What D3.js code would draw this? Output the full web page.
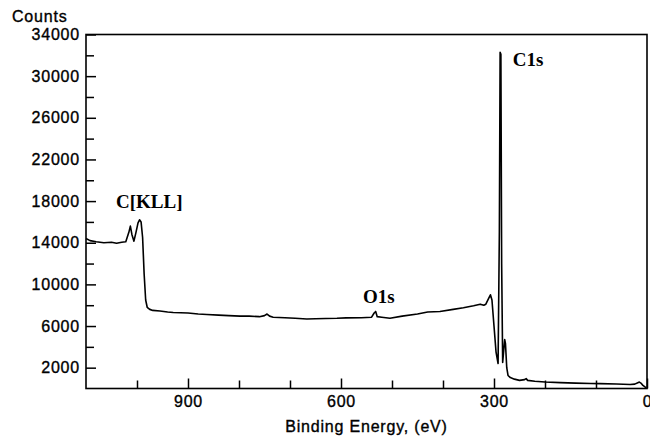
<!DOCTYPE html>
<html>
<head>
<meta charset="utf-8">
<script src="https://cdn.jsdelivr.net/npm/d3@7"></script>
<style>
  html, body { margin: 0; padding: 0; background: #fff; }
  svg { display: block; }
  .sans { font-family: "Liberation Sans", Arial, Helvetica, sans-serif; }
</style>
</head>
<body>
<svg id="chart" width="650" height="436"></svg>
<script>
// Binding energy (eV) and intensity (counts)
const energy = [1100,1092,1080,1065,1050,1040,1030,1022,1016,1013,1010,1006,1002,998,995,992,989,986,983,980,975,969,955,940,929,900,880,863,840,820,798,780,760,750,745,740,733,710,690,667,650,630,608,590,560,540,535,532,529,520,504,480,450,430,406,380,360,340,327,320,316,310,307,304,300,296,292,289.5,288,286.5,285,283,281,279,277.5,275,272.5,268,260,250,240,237,234,220,200,170,140,110,92,60,33,24,18,15,12,8,4,1];
const counts = [14400,14200,14100,14000,14050,13950,14050,14100,15000,15600,14800,14150,15000,15900,16200,16000,14500,11000,8500,7800,7600,7500,7450,7350,7300,7250,7150,7100,7050,7000,6950,6950,6900,7000,7150,6950,6850,6800,6750,6680,6700,6720,6740,6780,6800,6850,7250,7400,6900,6850,6750,6950,7150,7350,7400,7600,7750,7950,8100,8000,8100,8700,9000,8500,6000,3500,2400,15000,32300,32100,12000,2500,3600,4700,4300,2000,1250,1050,900,780,850,950,780,700,620,560,520,480,470,430,390,420,560,620,520,300,150,100];

const yMajorTicks = [2000, 6000, 10000, 14000, 18000, 22000, 26000, 30000, 34000];
const yMinorTicks = [4000, 8000, 12000, 16000, 20000, 24000, 28000, 32000];
const xMajorTicks = [900, 600, 300, 0];
const xMinorTicks = [1000, 800, 700, 500, 400, 200, 100];

const peakNames = ["C[KLL]", "O1s", "C1s"];
const peakLabelEnergy = [976, 526, 263];
const peakLabelCounts = [17300, 8200, 31000];
const peakAnchor = ["middle", "middle", "start"];

const xTitle = "Binding Energy, (eV)";
const yTitle = "Counts";

const svg = d3.select("#chart");
const x = d3.scaleLinear().domain([1100, 0]).range([86, 647]);
const y = d3.scaleLinear().domain([0, 34000]).range([388.5, 34.5]);

// curve
const line = d3.line().x((d, i) => x(energy[i])).y(d => y(d));
svg.append("path")
  .datum(counts)
  .attr("d", line)
  .attr("fill", "none")
  .attr("stroke", "#000")
  .attr("stroke-width", 1.6)
  .attr("stroke-linejoin", "round");

function styleAxis(g) {
  g.select(".domain").remove();
  g.selectAll("line").attr("stroke", "#000").attr("stroke-width", 1.5);
  g.selectAll("text")
    .attr("class", "sans")
    .attr("fill", "#000")
    .style("font-size", "16px")
    .style("letter-spacing", "0.8px")
    .attr("stroke", "#000")
    .attr("stroke-width", 0.35);
}

// y axis
svg.append("g").attr("transform", `translate(${x(1100)},0)`)
  .call(d3.axisLeft(y).tickValues(yMajorTicks).tickSize(-10).tickPadding(6).tickFormat(d3.format("d")))
  .call(styleAxis)
  .attr("font-family", null);
svg.append("g").attr("transform", `translate(${x(1100)},0)`)
  .call(d3.axisLeft(y).tickValues(yMinorTicks).tickSize(-8).tickFormat(""))
  .call(styleAxis);

// x axis
svg.append("g").attr("transform", `translate(0,${y(0)})`)
  .call(d3.axisBottom(x).tickValues(xMajorTicks).tickSize(-10).tickPadding(7).tickFormat(d3.format("d")))
  .call(styleAxis);
svg.append("g").attr("transform", `translate(0,${y(0)})`)
  .call(d3.axisBottom(x).tickValues(xMinorTicks).tickSize(-8).tickFormat(""))
  .call(styleAxis);

// frame
svg.append("rect")
  .attr("x", x(1100)).attr("y", y(34000))
  .attr("width", x(0) - x(1100)).attr("height", y(0) - y(34000))
  .attr("fill", "none").attr("stroke", "#000").attr("stroke-width", 1.6);

// titles
svg.append("text").attr("class", "sans")
  .attr("x", 12).attr("y", 22)
  .style("font-size", "16px").style("letter-spacing", "0.8px")
  .attr("stroke", "#000").attr("stroke-width", 0.35)
  .text(yTitle);
svg.append("text").attr("class", "sans")
  .attr("x", (x(1100) + x(0)) / 2 + 0).attr("y", 432)
  .attr("text-anchor", "middle")
  .style("font-size", "16px").style("letter-spacing", "0.8px")
  .attr("stroke", "#000").attr("stroke-width", 0.35)
  .text(xTitle);

// peak labels
svg.selectAll(".peak").data(peakNames).enter().append("text")
  .attr("class", "peak")
  .attr("x", (d, i) => x(peakLabelEnergy[i]))
  .attr("y", (d, i) => y(peakLabelCounts[i]))
  .attr("text-anchor", (d, i) => peakAnchor[i])
  .style("font-family", "'Liberation Serif', 'Times New Roman', serif")
  .style("font-weight", "bold")
  .style("font-size", "19px")
  .text(d => d);
</script>
</body>
</html>
